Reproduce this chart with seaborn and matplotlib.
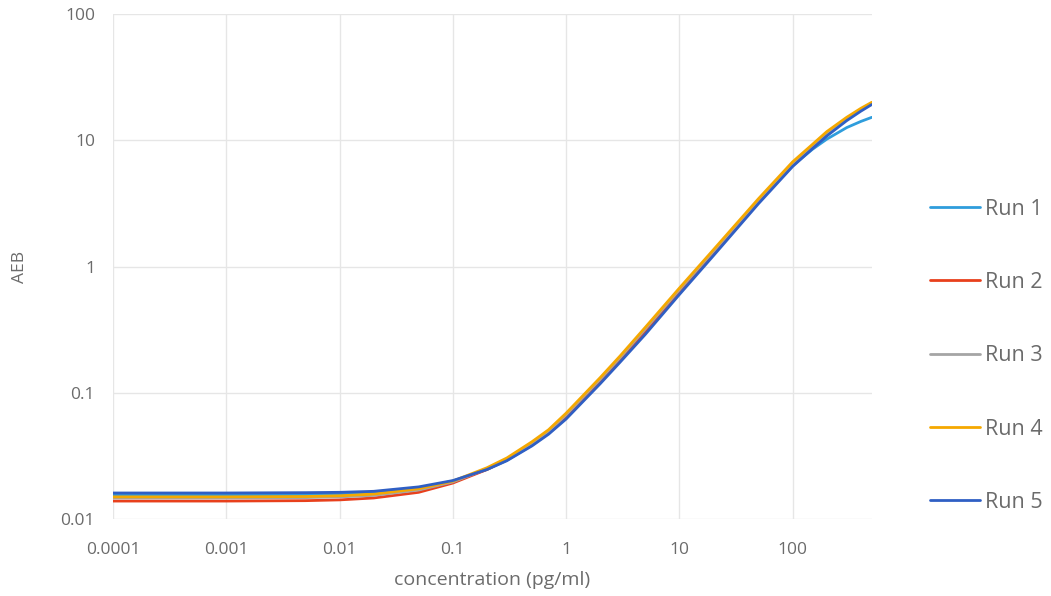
import seaborn as sns
import matplotlib.pyplot as plt
import matplotlib.ticker as mticker
import pandas as pd

conc = [0.0001, 0.001, 0.005, 0.01, 0.02, 0.05, 0.1, 0.2, 0.3, 0.5, 0.7, 1, 2, 3, 5, 10, 20, 50, 100, 150, 200, 300, 400, 500]
runs = ['Run 1', 'Run 2', 'Run 3', 'Run 4', 'Run 5']
run1 = [0.0155, 0.0155, 0.0156, 0.0158, 0.0162, 0.0176, 0.0200, 0.0247, 0.0292, 0.0385, 0.0478, 0.0635,
        0.121, 0.180, 0.30, 0.62, 1.26, 3.25, 6.3, 8.5, 10.2, 12.6, 14.1, 15.2]
run2 = [0.0139, 0.0139, 0.0140, 0.0142, 0.0147, 0.0163, 0.0193, 0.0247, 0.0296, 0.0395, 0.0490, 0.0655,
        0.124, 0.185, 0.31, 0.64, 1.29, 3.3, 6.45, 8.95, 11.3, 14.8, 17.4, 19.5]
run3 = [0.0147, 0.0147, 0.0148, 0.0150, 0.0154, 0.0170, 0.0197, 0.0250, 0.0298, 0.0400, 0.0497, 0.0670,
        0.128, 0.190, 0.32, 0.655, 1.32, 3.38, 6.6, 9.1, 11.4, 14.9, 17.5, 19.6]
run4 = [0.0150, 0.0150, 0.0151, 0.0153, 0.0158, 0.0174, 0.0200, 0.0255, 0.0305, 0.0410, 0.0510, 0.0690,
        0.132, 0.196, 0.33, 0.675, 1.36, 3.45, 6.75, 9.3, 11.7, 15.2, 17.9, 20.0]
run5 = [0.0161, 0.0161, 0.0162, 0.0163, 0.0166, 0.0180, 0.0202, 0.0247, 0.0290, 0.0380, 0.0470, 0.0620,
        0.118, 0.175, 0.29, 0.60, 1.22, 3.15, 6.2, 8.6, 10.8, 14.3, 17.0, 19.2]
colors = ['#2f9ddc', '#e8401c', '#a5a5a5', '#f5a800', '#2f5fc4']
x_ticks = [0.0001, 0.001, 0.01, 0.1, 1, 10, 100]
x_labels = ['0.0001', '0.001', '0.01', '0.1', '1', '10', '100']
y_ticks = [0.01, 0.1, 1, 10, 100]
y_labels = ['0.01', '0.1', '1', '10', '100']

rows = []
for name, vals in zip(runs, [run1, run2, run3, run4, run5]):
    for c, v in zip(conc, vals):
        rows.append({'conc': c, 'AEB': v, 'run': name})
df = pd.DataFrame(rows)

sns.set_style('white')
plt.rcParams['font.family'] = ['Open Sans', 'DejaVu Sans']

fig = plt.figure(figsize=(10.51, 5.96), dpi=100)
ax = fig.add_axes([0.1075, 0.129, 0.722, 0.8475])
sns.lineplot(data=df, x='conc', y='AEB', hue='run', palette=colors, linewidth=2.0, ax=ax)
ax.set_xscale('log')
ax.set_yscale('log')
ax.set_xlim(0.0001, 500)
ax.set_ylim(0.01, 100)
ax.set_xticks(x_ticks)
ax.set_xticklabels(x_labels)
ax.set_yticks(y_ticks)
ax.set_yticklabels(y_labels)
ax.xaxis.set_minor_locator(mticker.NullLocator())
ax.yaxis.set_minor_locator(mticker.NullLocator())
ax.grid(True, color='#e6e6e6', linewidth=1)
ax.set_axisbelow(True)
for s in ax.spines.values():
    s.set_visible(False)
ax.tick_params(colors='#6b6b6b', labelsize=12.5, length=0)
ax.tick_params(axis='x', pad=16.5)
ax.tick_params(axis='y', pad=13)
ax.set_xlabel('concentration (pg/ml)', color='#6b6b6b', fontsize=14, labelpad=9)
ax.set_ylabel('AEB', color='#6b6b6b', fontsize=12.5, labelpad=23)

handles, labels = ax.get_legend_handles_labels()
ax.get_legend().remove()
leg = fig.legend(handles, labels, loc='center left', bbox_to_anchor=(0.866, 0.403),
                 frameon=False, fontsize=15.5, handlelength=2.33, handletextpad=0.23,
                 labelspacing=2.43, labelcolor='#6b6b6b')

fig.savefig('out.png', dpi=100)
